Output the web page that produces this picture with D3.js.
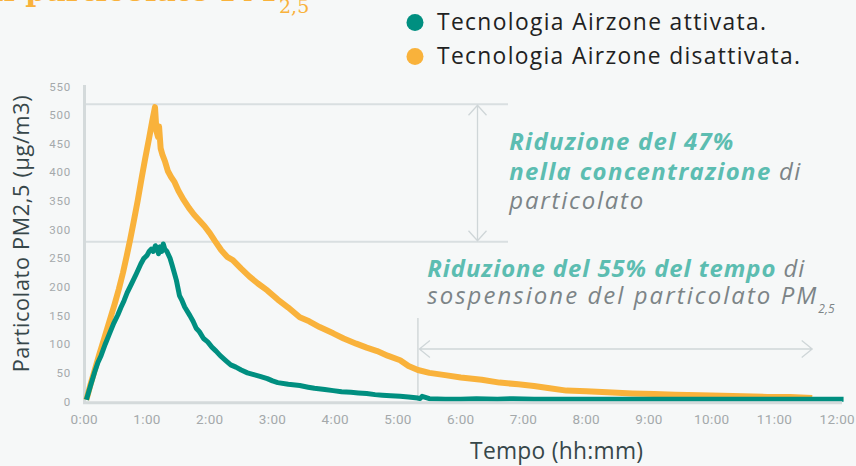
<!DOCTYPE html>
<html><head><meta charset="utf-8">
<script src="https://cdn.jsdelivr.net/npm/d3@7"></script>
<style>
html,body{margin:0;padding:0;background:#f6f8f8;overflow:hidden;}
svg{display:block;}
</style></head><body>
<svg id="chart" width="856" height="466"></svg>
<script>
// ---- data (minutes, PM2.5 µg/m3) ----
const xTickLabels = ["0:00","1:00","2:00","3:00","4:00","5:00","6:00","7:00","8:00","9:00","10:00","11:00","12:00"];
const yTickValues = [0,50,100,150,200,250,300,350,400,450,500,550];
const seriesNames = ["Tecnologia Airzone attivata.","Tecnologia Airzone disattivata."];

const minutesOff = [2,6,10,14,19,24,29,33,37,41,44,47,51,55,58,62,65,67.6,69,70.5,71.5,73,74.5,77,80,83,86,90,95,100,105,110,115,120,125,131,137,142,150,158,166,175,185,195,206,215,225,238,248,260,270,280,290,302,310,319,330,345,360,380,397,415,430,445,461,480,500,524,545,565,589,610,630,653,675,696];
const pmOff =     [3,30,55,80,110,140,170,196,225,258,284,312,350,392,422,460,490,514,472,462,480,442,432,420,402,392,384,368,352,338,326,316,306,294,280,264,252,247,232,218,206,194,178,164,147,140,130,119,110,101,94,88,80,72,62,55,50,46,42,38,33,30,27,23,19,18,16,14,13,12,11,10,9,8,8,6];

const minutesOn = [2,6,10,13,16,20,24,28,32,35,38,41,45,50,54,57,60,62,64,66,68,70,71,72.5,74,75.5,77,79,82,84,86,88,91,93,96,101,104,107,110,114,118,122,126,130,135,140,145,150,156,162,168,175,180,185,195,206,214,220,230,238,246,255,262,270,278,285,293,302,310,319,321,323,330,345,360,375,395,410,430,460,500,560,620,680,726];
const pmOn =      [3,28,52,68,80,100,118,136,151,164,176,190,205,224,240,250,255,262,266,262,272,266,258,270,262,275,266,262,250,238,225,212,185,178,165,150,140,128,122,110,104,95,88,80,72,64,60,55,50,47,44,40,36,33,30,28,25,23,21,19,17,16,15,14,12,11,10,9,8,6,5,9,5,4,4,5,4,5,4,4,4,4,4,4,4,4];

// annotation data
const peakOff = 519, peakOn = 279;          // peak concentrations
const endOn = 319, endOff = 696;            // minutes until particles settle

// ---- drawing ----
const svg = d3.select("#chart");
const green = "#008f80", orange = "#f9b23b";
const axisGrey = "#d4dadb", tickGrey = "#a4a9ab", textDark = "#37474a";
const teal = "#5cbdb1", annGrey = "#7c8487";
const sansFont = "'Open Sans', 'Noto Sans', sans-serif";

const x = d3.scaleLinear().domain([0, 720]).range([84.3, 837.3]);
const y = d3.scaleLinear().domain([0, 550]).range([401.5, 86.5]);

// grow the font (up to a limit) to reach the target width, then use spacing for the rest
function fitWidth(sel, target, maxScale){
  maxScale = maxScale || 1.14;
  const node = sel.node();
  const base = +sel.attr("font-size");
  let w = node.getComputedTextLength();
  let s = Math.min(maxScale, target / w);
  sel.attr("font-size", (base * s).toFixed(2));
  w = node.getComputedTextLength();
  const n = sel.text().length;
  sel.attr("letter-spacing", ((target - w) / Math.max(1, n - 1)).toFixed(3));
}

// cropped title at top
const titleText = svg.append("text")
  .attr("font-family","'DejaVu Serif', 'Liberation Serif', serif").attr("fill", orange);
titleText.append("tspan").attr("x", 276).attr("y", 1).attr("text-anchor","end")
  .attr("font-weight","bold").attr("font-size", 30)
  .text("Riduzione della concentrazione di particolato PM");
titleText.append("tspan").attr("x", 279).attr("y", 13).attr("font-size", 19).text("2,5");

// reference lines for peaks
[peakOff, peakOn].forEach(v => {
  svg.append("line").attr("x1", 86).attr("x2", 508).attr("y1", y(v)).attr("y2", y(v))
    .attr("stroke", "#d9dfe1").attr("stroke-width", 2);
});

// vertical double arrow
const arrowColor = "#cfd6d8";
const ax = 477.5, t1 = y(peakOff) + 1, t2 = y(peakOn) - 1;
svg.append("path")
  .attr("d", `M${ax},${t1}V${t2}` +
             `M${ax-9},${t1+10}L${ax},${t1}L${ax+9},${t1+10}` +
             `M${ax-9},${t2-10}L${ax},${t2}L${ax+9},${t2-10}`)
  .attr("fill","none").attr("stroke", arrowColor).attr("stroke-width", 1.3);

// vertical marker & horizontal double arrow
svg.append("line").attr("x1", x(endOn)).attr("x2", x(endOn)).attr("y1", 318).attr("y2", 401)
  .attr("stroke", "#ccd3d5").attr("stroke-width", 1.3);
const hy = 349, hx1 = x(endOn)+1.5, hx2 = x(endOff);
svg.append("path")
  .attr("d", `M${hx1},${hy}H${hx2}` +
             `M${hx1+10.5},${hy-8.5}L${hx1},${hy}L${hx1+10.5},${hy+8.5}` +
             `M${hx2-10.5},${hy-8.5}L${hx2},${hy}L${hx2-10.5},${hy+8.5}`)
  .attr("fill","none").attr("stroke", arrowColor).attr("stroke-width", 1.3);

// y axis line
svg.append("line").attr("x1", 84.5).attr("x2", 84.5).attr("y1", 85).attr("y2", 403.5)
  .attr("stroke", axisGrey).attr("stroke-width", 3);

// y tick labels
svg.append("g").selectAll("text").data(yTickValues).join("text")
  .attr("x", 71).attr("y", d => y(d)).attr("dy", "0.35em").attr("text-anchor","end")
  .attr("font-family", "Roboto, 'Open Sans', sans-serif").attr("font-size", 11.5)
  .attr("letter-spacing", 0.8)
  .attr("fill", tickGrey).text(d => d);

// x tick labels
svg.append("g").selectAll("text").data(xTickLabels).join("text")
  .attr("x", (d,i) => x(i*60)).attr("y", 423.5).attr("text-anchor","middle")
  .attr("font-family", "Roboto, 'Open Sans', sans-serif").attr("font-size", 13.5)
  .attr("letter-spacing", 0.4)
  .attr("fill", tickGrey).text(d => d);

// lines
const line = d3.line().x(d => x(d[0])).y(d => y(d[1])).curve(d3.curveLinear);
svg.append("path").datum(minutesOff.map((m,i) => [m, pmOff[i]]))
  .attr("d", line).attr("fill","none").attr("stroke", orange).attr("stroke-width", 6)
  .attr("stroke-linejoin","round");
svg.append("path").datum(minutesOn.map((m,i) => [m, pmOn[i]]))
  .attr("d", line).attr("fill","none").attr("stroke", green).attr("stroke-width", 5)
  .attr("stroke-linejoin","round");

// x axis line (drawn over the bottom of the curves)
svg.append("line").attr("x1", 83).attr("x2", 842).attr("y1", 402.8).attr("y2", 402.8)
  .attr("stroke", axisGrey).attr("stroke-width", 3);

// axis titles
const yTitle = svg.append("text")
  .attr("transform", "translate(29,233.5) rotate(-90)").attr("text-anchor","middle")
  .attr("font-family", sansFont).attr("font-size", 19).attr("fill", textDark)
  .text("Particolato PM2,5 (µg/m3)");
fitWidth(yTitle, 277);
const xTitle = svg.append("text")
  .attr("x", 556.7).attr("y", 459).attr("text-anchor","middle")
  .attr("font-family", sansFont).attr("font-size", 20).attr("fill", textDark)
  .text("Tempo (hh:mm)");
fitWidth(xTitle, 173);

// legend
const legendColors = [green, orange];
const legendWidths = [329, 363];
seriesNames.forEach((name, i) => {
  const cy = 22.5 + i*34;
  svg.append("circle").attr("cx", 415).attr("cy", cy).attr("r", 8.5).attr("fill", legendColors[i]);
  const t = svg.append("text").attr("x", 437).attr("y", cy + 7.5)
    .attr("font-family", sansFont).attr("font-size", 20).attr("fill", "#1e2222").text(name);
  fitWidth(t, legendWidths[i]);
});

// annotations: one text block per annotation, one tspan per line
function block(xp, lines, fs){
  const t = svg.append("text").attr("font-family", sansFont).attr("font-style","italic");
  lines.forEach(L => {
    const lt = t.append("tspan").attr("x", xp).attr("y", L.y).attr("font-size", fs);
    L.parts.forEach(p => {
      lt.append("tspan").attr("font-weight", p.bold ? "bold" : "normal")
        .attr("fill", p.bold ? teal : annGrey).text(p.t);
    });
    fitWidth(lt, L.w);
    if (L.sub) {
      lt.append("tspan").attr("font-size", 12).attr("letter-spacing", 0)
        .attr("dy", 9).attr("fill", annGrey).text(L.sub);
    }
  });
  return t;
}
block(509.3, [
  {y:150,   w:224, parts:[{t:"Riduzione del 47%", bold:true}]},
  {y:180,   w:291, parts:[{t:"nella concentrazione", bold:true},{t:" di"}]},
  {y:208.5, w:134, parts:[{t:"particolato"}]}
], 21);
block(427.3, [
  {y:277, w:377, parts:[{t:"Riduzione del 55% del tempo", bold:true},{t:" di"}]},
  {y:304, w:389, parts:[{t:"sospensione del particolato PM"}], sub:"2,5"}
], 21);
</script>
</body></html>
